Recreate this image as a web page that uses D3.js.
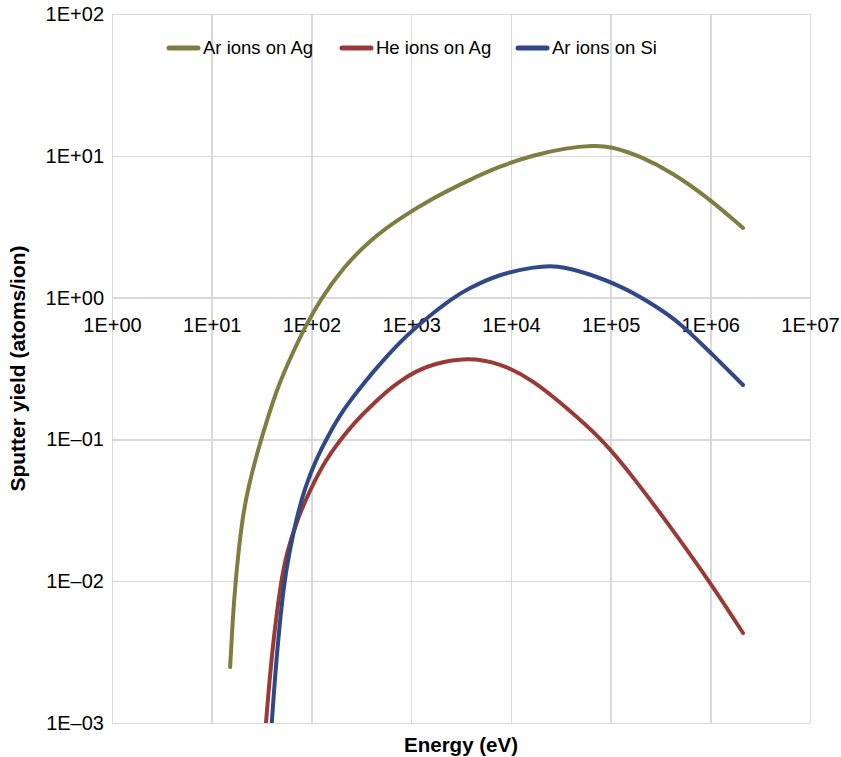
<!DOCTYPE html>
<meta charset="utf-8">
<style>
body { margin: 0; background: #fff; }
text { font-family: "Liberation Sans", Arial, sans-serif; fill: #000; }
.grid line { stroke: #d9d9d9; stroke-width: 1.5px; shape-rendering: crispEdges; }
.grid path { display: none; }
.line { fill: none; stroke-width: 4px; stroke-linecap: round; stroke-linejoin: round; }
</style>
<script src="https://d3js.org/d3.v7.min.js"></script>
<div id="chart"></div>
<script>

// values
var xTicks = [1, 10, 100, 1e3, 1e4, 1e5, 1e6, 1e7];
var xTickLabels = ["1E+00", "1E+01", "1E+02", "1E+03", "1E+04", "1E+05", "1E+06", "1E+07"];
var yTicks = [1e-3, 1e-2, 1e-1, 1, 10, 100];
var yTickLabels = ["1E\u201303", "1E\u201302", "1E\u201301", "1E+00", "1E+01", "1E+02"];

var seriesNames = ["Ar ions on Ag", "He ions on Ag", "Ar ions on Si"];
var seriesColors = ["#7e7d42", "#9a3a36", "#2f4888"];

var arAgEnergy = [15.3, 16.2, 17.2, 20.0, 23.3, 28.5, 35.9, 46.2, 65.4, 86.3, 122, 207, 387, 774, 1660, 3640, 7790, 16700, 36600, 66800, 98900, 198000, 424000, 929000, 2130000];
var arAgYield = [0.00248, 0.00515, 0.00955, 0.0266, 0.0461, 0.0802, 0.137, 0.238, 0.413, 0.621, 0.962, 1.62, 2.55, 3.64, 5.04, 6.64, 8.47, 10.1, 11.4, 11.8, 11.7, 9.97, 7.56, 5.12, 3.10];

var heAgEnergy = [35.0, 40.0, 49.2, 56.5, 71.7, 96.8, 137, 194, 274, 405, 573, 774, 1120, 1660, 3640, 7790, 16700, 36600, 84100, 168000, 369000, 995000, 2130000];
var heAgYield = [0.001, 0.00312, 0.00986, 0.0158, 0.027, 0.0440, 0.0705, 0.099, 0.133, 0.175, 0.219, 0.258, 0.303, 0.340, 0.381, 0.346, 0.262, 0.166, 0.099, 0.0543, 0.0261, 0.00986, 0.00431];

var arSiEnergy = [40.0, 44.9, 53.1, 60.0, 70.1, 86.3, 113, 147, 207, 307, 455, 774, 1120, 1660, 2460, 3640, 7790, 16700, 29100, 58100, 134000, 293000, 498000, 995000, 2130000];
var arSiYield = [0.001, 0.00312, 0.00986, 0.0158, 0.027, 0.0461, 0.0740, 0.106, 0.161, 0.230, 0.324, 0.486, 0.621, 0.778, 0.962, 1.15, 1.47, 1.64, 1.70, 1.49, 1.19, 0.859, 0.662, 0.413, 0.242];

var W = 841, H = 757;
var margin = {top: 14, right: 31, bottom: 34, left: 112};
var width = W - margin.left - margin.right,
    height = H - margin.top - margin.bottom;

var svg = d3.select("#chart").append("svg")
  .attr("width", W)
  .attr("height", H)
  .append("g")
  .attr("transform", "translate(" + margin.left + "," + margin.top + ")");

var x = d3.scaleLog().domain([1, 1e7]).range([0, width]);
var y = d3.scaleLog().domain([1e-3, 1e2]).range([height, 0]);

// gridlines
svg.append("g")
  .attr("class", "grid")
  .attr("transform", "translate(0," + height + ")")
  .call(d3.axisBottom(x).tickValues(xTicks).tickSize(-height).tickFormat(""));
svg.append("g")
  .attr("class", "grid")
  .call(d3.axisLeft(y).tickValues(yTicks).tickSize(-width).tickFormat(""));

// y tick labels
var yAxis = svg.append("g")
  .call(d3.axisLeft(y).tickValues(yTicks).tickSize(0).tickPadding(8)
    .tickFormat(function(d, i) { return yTickLabels[i]; }));
yAxis.select(".domain").remove();
yAxis.selectAll("text").style("font-size", "20px");

// x tick labels sit on the y = 1 line
var xAxis = svg.append("g")
  .attr("transform", "translate(0," + y(1) + ")")
  .call(d3.axisBottom(x).tickValues(xTicks).tickSize(0).tickPadding(20)
    .tickFormat(function(d, i) { return xTickLabels[i]; }));
xAxis.select(".domain").remove();
xAxis.selectAll("text").style("font-size", "20px");

// lines
svg.append("clipPath").attr("id", "clip")
  .append("rect").attr("width", width).attr("height", height);

var line = d3.line()
  .x(function(d) { return x(d[0]); })
  .y(function(d) { return y(d[1]); })
  .curve(d3.curveBasis);

var series = [
  d3.zip(arAgEnergy, arAgYield),
  d3.zip(heAgEnergy, heAgYield),
  d3.zip(arSiEnergy, arSiYield)
];

svg.append("g").attr("clip-path", "url(#clip)")
  .selectAll("path")
  .data(series)
  .enter().append("path")
  .attr("class", "line")
  .attr("d", line)
  .style("stroke", function(d, i) { return seriesColors[i]; });

// legend
var legendX = [55, 228, 404];
var legend = svg.selectAll(".legend")
  .data(seriesNames)
  .enter().append("g")
  .attr("transform", function(d, i) { return "translate(" + legendX[i] + ",34)"; });
legend.append("line")
  .attr("x1", 2).attr("x2", 31)
  .style("stroke", function(d, i) { return seriesColors[i]; })
  .style("stroke-width", 5)
  .style("stroke-linecap", "round");
legend.append("text")
  .attr("x", 36)
  .attr("dy", "0.35em")
  .style("font-size", "18.5px")
  .text(function(d) { return d; });

// axis titles
svg.append("text")
  .attr("x", width / 2)
  .attr("y", height + 29)
  .style("text-anchor", "middle")
  .style("font-size", "20.5px")
  .style("font-weight", "bold")
  .text("Energy (eV)");

svg.append("text")
  .attr("transform", "rotate(-90)")
  .attr("x", -height / 2)
  .attr("y", -87)
  .style("text-anchor", "middle")
  .style("font-size", "21px")
  .style("font-weight", "bold")
  .text("Sputter yield (atoms/ion)");

</script>
